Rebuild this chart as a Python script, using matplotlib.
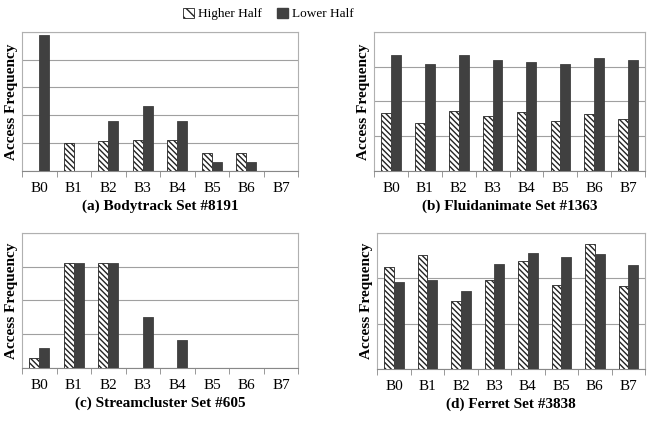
import numpy as np
import matplotlib.pyplot as plt
from matplotlib.patches import Patch

plt.rcParams['font.family'] = ['Liberation Serif', 'DejaVu Serif']
plt.rcParams['hatch.linewidth'] = 1.0

blocks = ['B0', 'B1', 'B2', 'B3', 'B4', 'B5', 'B6', 'B7']

# (a) Bodytrack
body_high = [0, 1.02, 1.07, 1.10, 1.10, 0.64, 0.64, 0]
body_low = [4.88, 0, 1.78, 2.32, 1.78, 0.32, 0.32, 0]
# (b) Fluidanimate
fluid_high = [1.66, 1.37, 1.72, 1.58, 1.69, 1.43, 1.65, 1.49]
fluid_low = [3.33, 3.08, 3.34, 3.19, 3.13, 3.07, 3.26, 3.20]
# (c) Streamcluster
stream_high = [0.30, 3.1, 3.1, 0, 0, 0, 0, 0]
stream_low = [0.60, 3.1, 3.1, 1.5, 0.83, 0, 0, 0]
# (d) Ferret
ferret_high = [2.24, 2.51, 1.50, 1.96, 2.37, 1.84, 2.75, 1.83]
ferret_low = [1.91, 1.96, 1.71, 2.32, 2.56, 2.47, 2.54, 2.30]

titles = ['(a) Bodytrack Set #8191', '(b) Fluidanimate Set #1363',
          '(c) Streamcluster Set #605', '(d) Ferret Set #3838']
ymaxes = [5, 4, 4, 3]

panels = [
    ([0.034, 0.597, 0.427, 0.328], body_high, body_low),
    ([0.578, 0.597, 0.419, 0.328], fluid_high, fluid_low),
    ([0.034, 0.132, 0.427, 0.319], stream_high, stream_low),
    ([0.583, 0.130, 0.414, 0.321], ferret_high, ferret_low),
]

dark = '#404040'
hatch = '\\' * 6
fig = plt.figure(figsize=(6.47, 4.24), dpi=100)
x = np.arange(len(blocks))
w = 0.29

for i, (rect, high, low) in enumerate(panels):
    ax = fig.add_axes(rect)
    ax.bar(x - w / 2, high, w, color='white', edgecolor='#222222', hatch=hatch,
           linewidth=0.6, zorder=3)
    ax.bar(x + w / 2, low, w, color=dark, edgecolor=dark, linewidth=0.6, zorder=3)
    ax.set_xlim(-0.5, len(blocks) - 0.5)
    ax.set_ylim(0, ymaxes[i])
    ax.set_yticks(np.arange(0, ymaxes[i] + 1))
    ax.yaxis.grid(True, color='#a0a0a0', linewidth=0.8, zorder=0)
    ax.tick_params(axis='y', length=0, labelleft=False)
    ax.set_xticks(x)
    ax.set_xticklabels(blocks, fontsize=11)
    ax.set_xticks(np.arange(-0.5, len(blocks)), minor=True)
    ax.tick_params(axis='x', which='major', length=0, pad=8)
    ax.tick_params(axis='x', which='minor', length=4, color='#888888')
    for s in ['top', 'right', 'left']:
        ax.spines[s].set_color('#b0b0b0')
        ax.spines[s].set_linewidth(0.8)
    ax.spines['bottom'].set_color('#888888')
    ax.set_ylabel('Access Frequency', fontsize=11, fontweight='bold', labelpad=3)
    ax.set_xlabel(titles[i], fontsize=11, fontweight='bold', labelpad=3)

handles = [Patch(facecolor='white', edgecolor='#222222', hatch='\\\\\\', linewidth=0.6),
           Patch(facecolor=dark, edgecolor=dark)]
fig.legend(handles, ['Higher Half', 'Lower Half'], loc='upper center',
           bbox_to_anchor=(0.415, 1.01), ncol=2, frameon=False, fontsize=9.5,
           handlelength=0.8, handleheight=0.8, handletextpad=0.3, columnspacing=1.2)

fig.savefig('out.png', dpi=100)
